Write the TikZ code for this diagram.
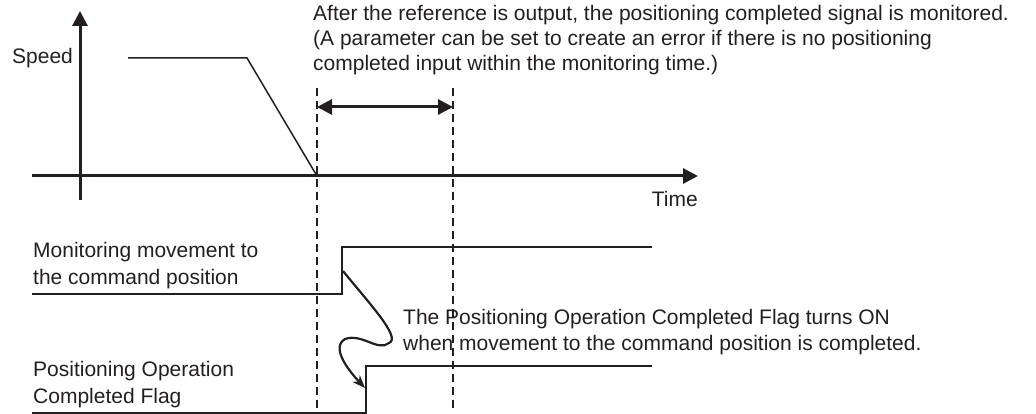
\documentclass[tikz,border=0pt]{standalone}
\usepackage{fontspec}
\setmainfont{Liberation Sans}
\usetikzlibrary{arrows.meta}
\definecolor{ink}{HTML}{231F20}
\begin{document}
\begin{tikzpicture}[x=1pt,y=-1pt, draw=ink,
  every node/.style={inner sep=0pt, text=ink},
  txt/.style={anchor=base west, align=left, font=\fontsize{21}{#1}\selectfont},
  txt/.default=25,
  axis/.style={line width=3pt, -{Triangle[length=15pt,width=15pt]}},
  span/.style={line width=3pt, {Triangle[length=15pt,width=15pt]}-{Triangle[length=15pt,width=15pt]}},
  sig/.style={line width=2pt},
  prof/.style={line width=1.5pt},
  guide/.style={line width=1.5pt, dash pattern=on 8pt off 5pt},
  cause/.style={line width=2.2pt, -{Stealth[length=13pt,width=10pt]}}]
\useasboundingbox (0,0) rectangle (1036,414);
% axes
\coordinate (yb) at (80,200);
\coordinate (yt) at (80,11);
\coordinate (xl) at (32,176);
\coordinate (xr) at (698,176);
\draw[axis] (yb) -- (yt);
\draw[axis] (xl) -- (xr);
% speed profile
\coordinate (p0) at (128,58);
\coordinate (p1) at (247,58);
\coordinate (p2) at (317,176);
\draw[prof] (p0) -- (p1) -- (p2);
% guides
\coordinate (g1t) at (317,88);
\coordinate (g1b) at (317,408);
\coordinate (g2t) at (453,88);
\coordinate (g2b) at (453,408);
\draw[guide] (g1t) -- (g1b);
\draw[guide] (g2t) -- (g2b);
\coordinate (s1) at (317,107);
\coordinate (s2) at (453,107);
\draw[span] (s1) -- (s2);
% signals
\coordinate (m0) at (32,294);
\coordinate (m1) at (342,294);
\coordinate (m2) at (342,247);
\coordinate (m3) at (652,247);
\draw[sig] (m0) -- (m1) -- (m2) -- (m3);
\coordinate (f0) at (32,413);
\coordinate (f1) at (366,413);
\coordinate (f2) at (366,366);
\coordinate (f3) at (652,366);
\draw[sig] (f0) -- (f1) -- (f2) -- (f3);
% cause arrow
\coordinate (c0) at (343,271);
\coordinate (c1) at (389,343);
\coordinate (c2) at (345,339);
\coordinate (c3) at (365,388);
\draw[cause] (c0) .. controls (368,302) and (402,338) .. (c1)
  .. controls (378,352) and (362,333) .. (c2)
  .. controls (330,348) and (350,372) .. (c3);
% texts
\node[txt] (speed) at (12,64) {Speed};
\node[txt, anchor=base east] (time) at (698,207) {Time};
\node[txt=25] (note) at (313,71) {After the reference is output, the positioning completed signal is monitored.\\(A parameter can be set to create an error if there is no positioning\\completed input within the monitoring time.)};
\node[txt=27] (mon) at (33,284) {Monitoring movement to\\the command position};
\node[txt=26.5] (flag) at (33,403) {Positioning Operation\\Completed Flag};
\node[txt=26] (turn) at (403,350) {The Positioning Operation Completed Flag turns ON\\when movement to the command position is completed.};
\end{tikzpicture}
\end{document}
